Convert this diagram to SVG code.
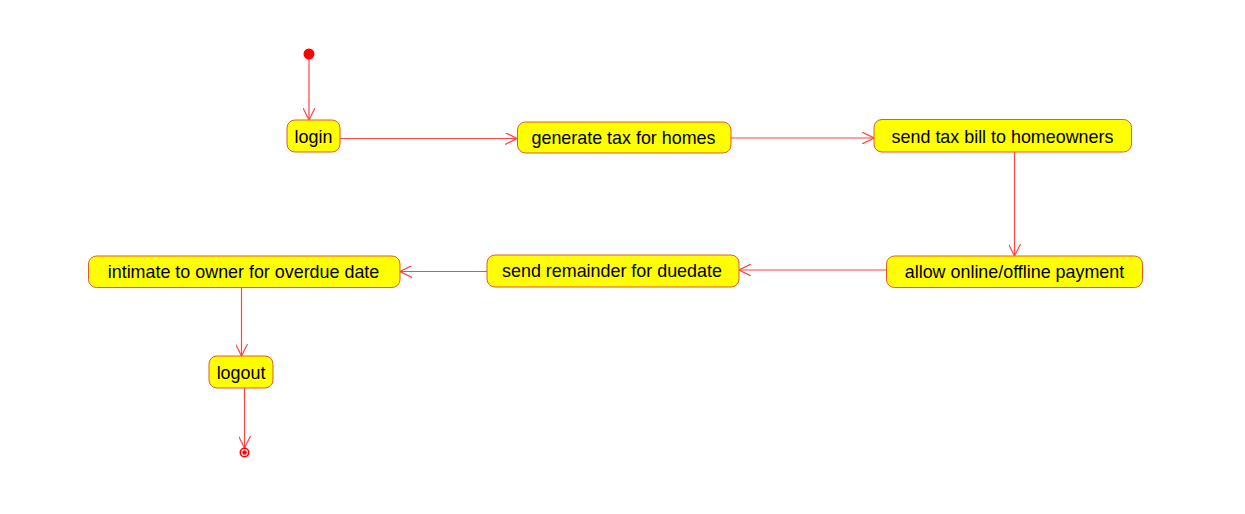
<svg xmlns="http://www.w3.org/2000/svg" width="1245" height="514" viewBox="0 0 1245 514">
<style>
.node rect{fill:#ffff00;stroke:#e2592a;stroke-width:1}
.node text{font-family:"Liberation Sans",Arial,sans-serif;font-size:17.9px;fill:#000;text-anchor:middle}
.conn line{stroke:#f44;stroke-width:1.2;fill:none}
</style>
<defs>
<marker id="arr" viewBox="0 0 12 12" refX="12" refY="6" markerWidth="12" markerHeight="12" markerUnits="userSpaceOnUse" orient="auto">
<path d="M0,0 L12,6 L0,12" fill="none" stroke="#f44" stroke-width="1.2"/>
</marker>
</defs>
<rect width="1245" height="514" fill="#fff"/>
<g class="conn">
<line x1="309" y1="59" x2="309" y2="120" marker-end="url(#arr)"/>
<line x1="340" y1="138.5" x2="517" y2="138.5" marker-end="url(#arr)"/>
<line x1="731" y1="138" x2="874" y2="138" marker-end="url(#arr)"/>
<line x1="1014.5" y1="152" x2="1014.5" y2="256" marker-end="url(#arr)"/>
<line x1="886" y1="270" x2="739" y2="270" marker-end="url(#arr)"/>
<line x1="487" y1="271.5" x2="400" y2="271.5" marker-end="url(#arr)"/>
<line x1="241.5" y1="288" x2="241.5" y2="356" marker-end="url(#arr)"/>
<line x1="244.5" y1="388" x2="244.5" y2="448" marker-end="url(#arr)"/>
</g>
<g id="start"><circle cx="309" cy="54" r="5.5" fill="#f00"/></g>
<g id="login" class="node"><rect x="287" y="120" width="53" height="32" rx="8"/><text x="313.5" y="142.5">login</text></g>
<g id="generate" class="node"><rect x="517.5" y="122" width="213.5" height="31" rx="8"/><text x="623.5" y="144">generate tax for homes</text></g>
<g id="sendbill" class="node"><rect x="874" y="119.5" width="257.5" height="32.5" rx="8"/><text x="1002.5" y="142.5">send tax bill to homeowners</text></g>
<g id="allow" class="node"><rect x="886.5" y="256" width="256" height="31.5" rx="8"/><text x="1014.5" y="278">allow online/offline payment</text></g>
<g id="remainder" class="node"><rect x="487" y="255" width="252" height="32" rx="8"/><text x="612" y="277">send remainder for duedate</text></g>
<g id="intimate" class="node"><rect x="88.5" y="256" width="311.5" height="31.5" rx="8"/><text x="243.5" y="278">intimate to owner for overdue date</text></g>
<g id="logout" class="node"><rect x="209" y="356" width="64" height="32" rx="8"/><text x="241" y="378.5">logout</text></g>
<g id="end"><circle cx="244.5" cy="452.5" r="4.2" fill="#fff" stroke="#f00" stroke-width="1.6"/><circle cx="244.5" cy="452.5" r="2.2" fill="#f00"/></g>
</svg>
